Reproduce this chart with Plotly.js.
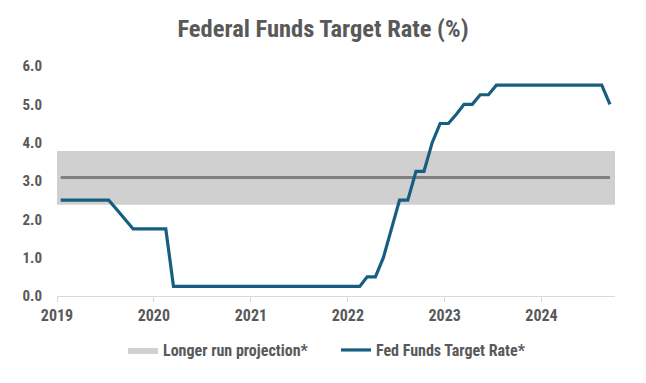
<!DOCTYPE html>
<html>
<head>
<meta charset="utf-8">
<script src="https://cdn.plot.ly/plotly-3.0.1.min.js"></script>
<style>html,body{margin:0;padding:0;background:#fff;}#chart{width:646px;height:383px;}</style>
</head>
<body>
<div id="chart"></div>
<script>
// Month labels (values are month-end target rate, upper bound, plotted mid-month)
const months = [];
for (let y = 2019; y <= 2024; y++) {
  for (let m = 1; m <= 12; m++) {
    if (y === 2024 && m > 9) break;
    months.push(y + '-' + String(m).padStart(2, '0') + '-15');
  }
}
const rate2019 = [2.5, 2.5, 2.5, 2.5, 2.5, 2.5, 2.5, 2.25, 2.0, 1.75, 1.75, 1.75];
const rate2020 = [1.75, 1.75, 0.25, 0.25, 0.25, 0.25, 0.25, 0.25, 0.25, 0.25, 0.25, 0.25];
const rate2021 = [0.25, 0.25, 0.25, 0.25, 0.25, 0.25, 0.25, 0.25, 0.25, 0.25, 0.25, 0.25];
const rate2022 = [0.25, 0.25, 0.5, 0.5, 1.0, 1.75, 2.5, 2.5, 3.25, 3.25, 4.0, 4.5];
const rate2023 = [4.5, 4.75, 5.0, 5.0, 5.25, 5.25, 5.5, 5.5, 5.5, 5.5, 5.5, 5.5];
const rate2024 = [5.5, 5.5, 5.5, 5.5, 5.5, 5.5, 5.5, 5.5, 5.0];
const fedRate = [].concat(rate2019, rate2020, rate2021, rate2022, rate2023, rate2024);

// Longer run projection: range and median
const projLow = 2.38;
const projHigh = 3.78;
const projMedian = 3.09;
const axisStart = '2019-01-01';
const axisEnd = '2024-10-04';

const font = "'Liberation Sans Narrow', 'Arial Narrow', 'Roboto Condensed', 'DejaVu Sans Condensed', Roboto, sans-serif";
const textColor = '#595959';

const traces = [
  {x: [axisStart, axisEnd], y: [projLow, projLow], mode: 'lines', line: {width: 0, color: '#d0d0d0'},
   showlegend: false, hoverinfo: 'skip'},
  {x: [axisStart, axisEnd], y: [projHigh, projHigh], mode: 'lines', line: {width: 0, color: '#d0d0d0'},
   fill: 'tonexty', fillcolor: '#d0d0d0', name: 'Longer run projection*', legendrank: 1},
  {x: months, y: months.map(() => projMedian), mode: 'lines', line: {width: 3, color: '#808080'},
   showlegend: false},
  {x: months, y: fedRate, mode: 'lines', line: {width: 3.2, color: '#175e80'},
   name: 'Fed Funds Target Rate*', legendrank: 2}
];

const layout = {
  width: 646, height: 383,
  margin: {l: 57, r: 31, t: 66, b: 87},
  paper_bgcolor: '#fff', plot_bgcolor: '#fff',
  font: {family: font, color: textColor, size: 14},
  title: {text: '<b>Federal Funds Target Rate (%)</b>', font: {family: font, size: 24.5, color: textColor},
          x: 0.5, xanchor: 'center', y: 0.925, yanchor: 'middle'},
  xaxis: {type: 'date', range: [axisStart, axisEnd], tick0: '2019-01-01', dtick: 'M12', tickformat: '%Y',
          ticks: 'outside', ticklen: 5, tickcolor: '#d9d9d9', tickwidth: 1,
          showline: true, linecolor: '#d9d9d9', linewidth: 1, showgrid: false, zeroline: false,
          tickfont: {family: font, size: 16, color: textColor, weight: 'bold'}},
  yaxis: {range: [0, 6], dtick: 1, tickformat: '.1f', showgrid: false, zeroline: false, showline: false,
          ticks: '', ticklabelstandoff: 14,
          tickfont: {family: font, size: 15, color: textColor, weight: 'bold'}},
  legend: {orientation: 'h', x: 0.5, xanchor: 'center', y: -0.235, yanchor: 'middle',
           itemwidth: 30, traceorder: 'normal', entrywidth: 168,
           font: {family: font, size: 16, color: textColor, weight: 'bold'}},
  showlegend: true
};

Plotly.newPlot('chart', traces, layout, {displayModeBar: false, staticPlot: true});
</script>
</body>
</html>
